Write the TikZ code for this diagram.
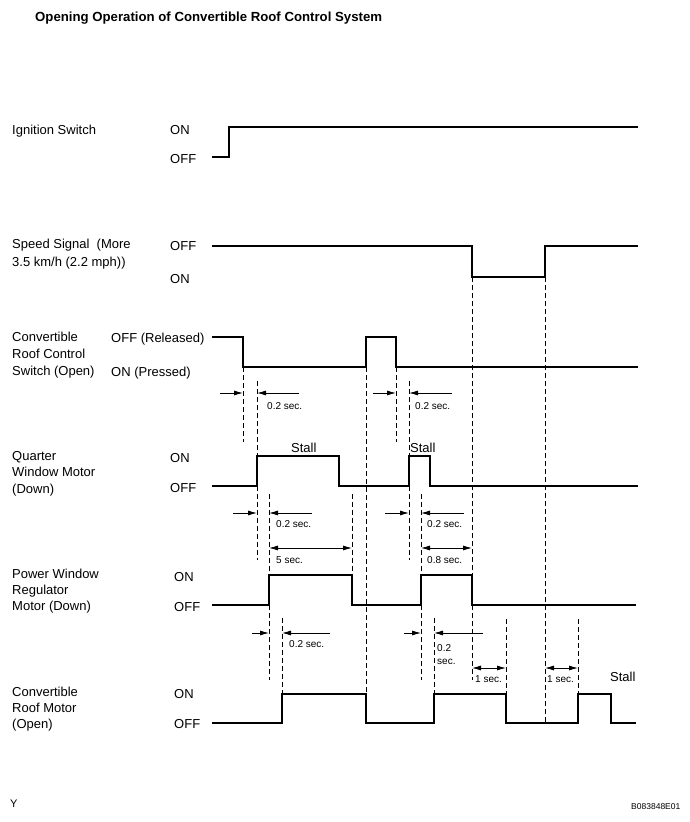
\documentclass[tikz,border=0pt]{standalone}
\usepackage{fontspec}
\setmainfont{Liberation Sans}
\usetikzlibrary{arrows.meta}
\begin{document}
\begin{tikzpicture}[x=1pt,y=-1pt,
  sig/.style={line width=1.3pt, line join=miter},
  dsh/.style={line width=0.7pt, dash pattern=on 5pt off 3pt},
  dimln/.style={line width=0.8pt},
  tipa/.style={-{Latex[length=9pt,width=5pt]}},
  tipb/.style={{Latex[length=9pt,width=5pt]}-{Latex[length=9pt,width=5pt]}},
  lbl/.style={font=\fontsize{13}{15}\selectfont, inner sep=0pt, anchor=base west},
  ttl/.style={font=\bfseries\fontsize{13.2}{15}\selectfont, inner sep=0pt, anchor=base west},
  sm/.style={font=\fontsize{10}{12}\selectfont, inner sep=0pt, anchor=base west},
  tiny/.style={font=\fontsize{8.5}{10}\selectfont, inner sep=0pt, anchor=base west}]
\fill[white] (0,0) rectangle (690,822);
\useasboundingbox (0,0) rectangle (690,822);

% title
\node[ttl] (title) at (35,21) {Opening Operation of Convertible Roof Control System};

% left labels
\node[lbl] (ign) at (12,134) {Ignition Switch};
\node[lbl] (spd1) at (12,248) {Speed Signal\ \ (More};
\node[lbl] (spd2) at (12,266) {3.5 km/h (2.2 mph))};
\node[lbl] (sw1) at (12,341) {Convertible};
\node[lbl] (sw2) at (12,358) {Roof Control};
\node[lbl] (sw3) at (12,375) {Switch (Open)};
\node[lbl] (qw1) at (12,460) {Quarter};
\node[lbl] (qw2) at (12,476) {Window Motor};
\node[lbl] (qw3) at (12,493) {(Down)};
\node[lbl] (pw1) at (12,578) {Power Window};
\node[lbl] (pw2) at (12,594) {Regulator};
\node[lbl] (pw3) at (12,610) {Motor (Down)};
\node[lbl] (rm1) at (12,696) {Convertible};
\node[lbl] (rm2) at (12,712) {Roof Motor};
\node[lbl] (rm3) at (12,728) {(Open)};

% level labels
\node[lbl] (ignon) at (170,134) {ON};
\node[lbl] (ignoff) at (170,163) {OFF};
\node[lbl] (spdoff) at (170,250) {OFF};
\node[lbl] (spdon) at (170,283) {ON};
\node[lbl] (swoff) at (111,342) {OFF (Released)};
\node[lbl] (swon) at (111,376) {ON (Pressed)};
\node[lbl] (qwon) at (170,462) {ON};
\node[lbl] (qwoff) at (170,492) {OFF};
\node[lbl] (pwon) at (174,581) {ON};
\node[lbl] (pwoff) at (174,611) {OFF};
\node[lbl] (rmon) at (174,698) {ON};
\node[lbl] (rmoff) at (174,728) {OFF};

% signals
\draw[sig] (212,157) -- (229,157) -- (229,127) -- (638,127);
\draw[sig] (212,246) -- (472,246) -- (472,277) -- (545,277) -- (545,246) -- (638,246);
\draw[sig] (212,337) -- (243,337) -- (243,367) -- (366,367) -- (366,337) -- (396,337) -- (396,367) -- (638,367);
\draw[sig] (212,486) -- (257,486) -- (257,456) -- (339,456) -- (339,486) -- (409,486) -- (409,456) -- (430,456) -- (430,486) -- (638,486);
\draw[sig] (212,605) -- (269,605) -- (269,575) -- (352,575) -- (352,605) -- (421,605) -- (421,575) -- (472,575) -- (472,605) -- (636,605);
\draw[sig] (212,723) -- (282,723) -- (282,694) -- (366,694) -- (366,723) -- (434,723) -- (434,694) -- (506,694) -- (506,723) -- (578,723) -- (578,694) -- (611,694) -- (611,723) -- (636,723);

% dashed guide lines
\draw[dsh] (243,367) -- (243,442);
\draw[dsh] (257,381) -- (257,456) (257,486) -- (257,560);
\draw[dsh] (269,494) -- (269,575) (269,605) -- (269,680);
\draw[dsh] (282,618) -- (282,694);
\draw[dsh] (352,494) -- (352,575);
\draw[dsh] (366,367) -- (366,694);
\draw[dsh] (396,367) -- (396,442);
\draw[dsh] (409,381) -- (409,456) (409,486) -- (409,560);
\draw[dsh] (421,494) -- (421,575) (421,605) -- (421,680);
\draw[dsh] (434,618) -- (434,694);
\draw[dsh] (472,277) -- (472,575) (472,605) -- (472,680);
\draw[dsh] (506,619) -- (506,694);
\draw[dsh] (545,277) -- (545,723);
\draw[dsh] (578,619) -- (578,694);

% dimension arrows
\draw[dimln,tipa] (220,393) -- (243,393);
\draw[dimln,tipa] (299,393) -- (257,393);
\node[sm] (d1) at (267,409) {0.2 sec.};
\draw[dimln,tipa] (373,393) -- (396,393);
\draw[dimln,tipa] (452,393) -- (409,393);
\node[sm] (d2) at (415,409) {0.2 sec.};

\draw[dimln,tipa] (233,513) -- (257,513);
\draw[dimln,tipa] (312,513) -- (269,513);
\node[sm] (d3) at (276,527) {0.2 sec.};
\draw[dimln,tipa] (385,513) -- (409,513);
\draw[dimln,tipa] (464,513) -- (421,513);
\node[sm] (d4) at (427,527) {0.2 sec.};

\draw[dimln,tipb] (269,548) -- (352,548);
\node[sm] (d5) at (276,563) {5 sec.};
\draw[dimln,tipb] (421,548) -- (472,548);
\node[sm] (d6) at (427,563) {0.8 sec.};

\draw[dimln,tipa] (252,633) -- (269,633);
\draw[dimln,tipa] (330,633) -- (282,633);
\node[sm] (d7) at (289,647) {0.2 sec.};
\draw[dimln,tipa] (404,633) -- (421,633);
\draw[dimln,tipa] (483,633) -- (434,633);
\node[sm] (d8a) at (437,651) {0.2};
\node[sm] (d8b) at (437,664) {sec.};

\draw[dimln,tipb] (472,668) -- (506,668);
\node[sm] (d9) at (475,682) {1 sec.};
\draw[dimln,tipb] (545,668) -- (578,668);
\node[sm] (d10) at (547,682) {1 sec.};

% stall labels
\node[lbl] (st1) at (291,452) {Stall};
\node[lbl] (st2) at (410,452) {Stall};
\node[lbl] (st3) at (610,681) {Stall};

% footer
\node[lbl, font=\fontsize{11}{13}\selectfont] (yy) at (10,807) {Y};
\node[tiny] (code) at (631,809) {B083848E01};
\end{tikzpicture}
\end{document}
